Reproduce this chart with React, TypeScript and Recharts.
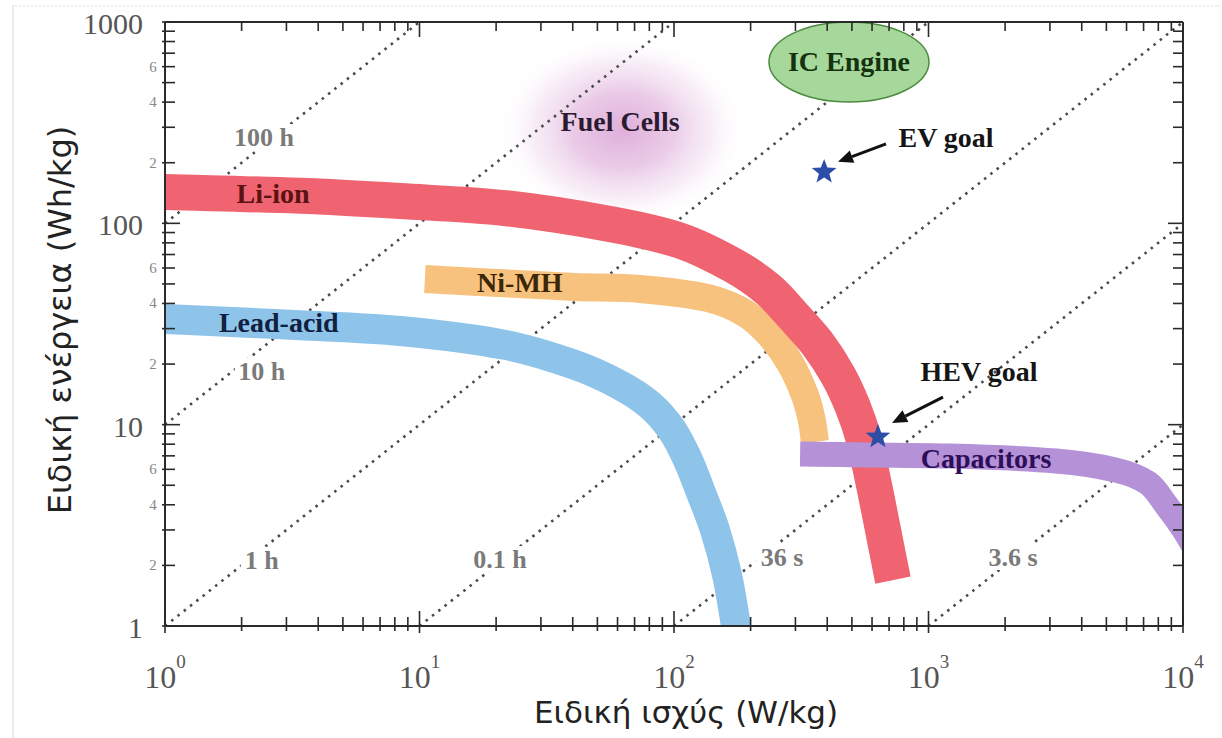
import React from 'react';
import {
  ComposedChart,
  Line,
  Scatter,
  XAxis,
  YAxis,
  ReferenceDot,
  ReferenceLine,
  Label,
} from 'recharts';

const SERIF = '"Liberation Serif", "Times New Roman", serif';
const SANS = '"DejaVu Sans", "Noto Sans", sans-serif';

// Band centre lines: specific power p (W/kg) vs specific energy e (Wh/kg)
const liIon = [
  { p: 1, e: 143 }, { p: 3.4, e: 137 }, { p: 8.4, e: 129 }, { p: 21.7, e: 119 },
  { p: 56.6, e: 99 }, { p: 106, e: 82 }, { p: 170, e: 62 }, { p: 234, e: 47 },
  { p: 299, e: 33.9 }, { p: 365, e: 25.4 }, { p: 441, e: 17.6 }, { p: 505, e: 12.2 },
  { p: 558, e: 8.38 }, { p: 605, e: 5.31 }, { p: 651, e: 3.36 }, { p: 687, e: 2.38 },
  { p: 725, e: 1.69 },
];
const niMH = [
  { p: 10.5, e: 52.9 }, { p: 40.8, e: 48.3 }, { p: 73.5, e: 47.2 }, { p: 135, e: 42.6 },
  { p: 190, e: 35.8 }, { p: 238, e: 27.9 }, { p: 286, e: 20.2 }, { p: 327, e: 14.0 },
  { p: 348, e: 10.5 }, { p: 358, e: 8.2 },
];
const leadAcid = [
  { p: 1, e: 33.5 }, { p: 3.4, e: 31.2 }, { p: 8.4, e: 29.2 }, { p: 21.7, e: 24.9 },
  { p: 40.8, e: 19.8 }, { p: 61.4, e: 15.7 }, { p: 80.5, e: 12.5 }, { p: 98.2, e: 9.4 },
  { p: 113.5, e: 6.67 }, { p: 126.5, e: 4.73 }, { p: 145, e: 2.99 }, { p: 161.6, e: 1.79 },
  { p: 175.3, e: 1.0 }, { p: 181.7, e: 0.76 },
];
const capacitors = [
  { p: 313, e: 7.14 }, { p: 1215, e: 6.98 }, { p: 3170, e: 6.6 }, { p: 5454, e: 5.95 },
  { p: 7288, e: 5.13 }, { p: 8653, e: 3.94 }, { p: 10000, e: 3.06 }, { p: 11145, e: 2.44 },
];

// Constant discharge-time lines (E = t·P), end points only
const line100h = [{ p: 1, e: 100 }, { p: 10, e: 1000 }];
const line10h = [{ p: 1, e: 10 }, { p: 100, e: 1000 }];
const line1h = [{ p: 1, e: 1 }, { p: 1000, e: 1000 }];
const line01h = [{ p: 10, e: 1 }, { p: 10000, e: 1000 }];
const line36s = [{ p: 100, e: 1 }, { p: 10000, e: 100 }];
const line3_6s = [{ p: 1000, e: 1 }, { p: 10000, e: 10 }];
const timeLines = [line100h, line10h, line1h, line01h, line36s, line3_6s];

const timeLabels = [
  { text: '100 h', p: 2.45, e: 268 },
  { text: '10 h', p: 2.4, e: 18.5 },
  { text: '1 h', p: 2.4, e: 2.13 },
  { text: '0.1 h', p: 20.7, e: 2.15 },
  { text: '36 s', p: 266, e: 2.2 },
  { text: '3.6 s', p: 2148, e: 2.2 },
];

// Development targets
const goals = [
  { name: 'EV goal', p: 389, e: 180 },
  { name: 'HEV goal', p: 633, e: 8.7 },
];
const goalLabels = [
  { text: 'EV goal', p: 1172, e: 265 },
  { text: 'HEV goal', p: 1579, e: 18.3 },
];
const evArrow = [{ p: 681, e: 248 }, { p: 441, e: 202 }];
const hevArrow = [{ p: 1140, e: 13.7 }, { p: 719, e: 10.2 }];

// Regions
const icEngine = { p: 487, e: 633 };
const fuelCells = { p: 62.5, e: 291 };

const bandLabels = [
  { text: 'Li-ion', p: 2.66, e: 140 },
  { text: 'Lead-acid', p: 2.8, e: 32 },
  { text: 'Ni-MH', p: 24.8, e: 50.5 },
  { text: 'Capacitors', p: 1683, e: 6.75 },
  { text: 'Fuel Cells', p: 61.4, e: 318 },
  { text: 'IC Engine', p: 487, e: 633 },
];

// Axis ticks
const xMajorTicks = [1, 10, 100, 1000, 10000];
const xTickExponents = ['0', '1', '2', '3', '4'];
const yMajorTicks = [1, 10, 100, 1000];
const yTickLabels = ['1', '10', '100', '1000'];
const minorMultipliers = [2, 3, 4, 5, 6, 7, 8, 9];
const yLabelledMinors = [2, 4, 6];

const withMinors = (majors: number[]) => {
  const out: number[] = [...majors];
  majors.slice(0, -1).forEach((m) => minorMultipliers.forEach((k) => out.push(m * k)));
  return out.sort((a, b) => a - b);
};
const xTicks = withMinors(xMajorTicks);
const yTicks = withMinors(yMajorTicks);

const bandColors: Record<string, string> = {
  'Li-ion': '#ef6470',
  'Ni-MH': '#f7c27e',
  'Lead-acid': '#8fc4ea',
  Capacitors: '#b591d8',
};
const labelColors: Record<string, string> = {
  'Li-ion': '#5a1212',
  'Lead-acid': '#102040',
  'Ni-MH': '#3b2608',
  Capacitors: '#2e0e58',
  'Fuel Cells': '#2c1a30',
  'IC Engine': '#14320e',
};

const AXIS = '#2a2a2a';
const TICK_TEXT = '#555';

// Smooth spline through the points with chord-length scaled tangents (no overshoot on uneven spacing)
const smoothCurve: any = (context: any) => {
  let pts: number[][] = [];
  return {
    areaStart() {},
    areaEnd() {},
    lineStart() {
      pts = [];
    },
    point(x: number, y: number) {
      pts.push([+x, +y]);
    },
    lineEnd() {
      const n = pts.length;
      if (!n) return;
      context.moveTo(pts[0][0], pts[0][1]);
      if (n === 1) return;
      const d: number[] = [];
      for (let i = 0; i < n - 1; i++) {
        d.push(Math.hypot(pts[i + 1][0] - pts[i][0], pts[i + 1][1] - pts[i][1]) || 1e-6);
      }
      const tan = pts.map((p, i) => {
        if (i === 0) return [(pts[1][0] - p[0]) / d[0], (pts[1][1] - p[1]) / d[0]];
        if (i === n - 1) return [(p[0] - pts[i - 1][0]) / d[i - 1], (p[1] - pts[i - 1][1]) / d[i - 1]];
        const s = d[i - 1] + d[i];
        return [(pts[i + 1][0] - pts[i - 1][0]) / s, (pts[i + 1][1] - pts[i - 1][1]) / s];
      });
      for (let i = 0; i < n - 1; i++) {
        const L = d[i] / 3;
        context.bezierCurveTo(
          pts[i][0] + tan[i][0] * L,
          pts[i][1] + tan[i][1] * L,
          pts[i + 1][0] - tan[i + 1][0] * L,
          pts[i + 1][1] - tan[i + 1][1] * L,
          pts[i + 1][0],
          pts[i + 1][1],
        );
      }
    },
  };
};

const mantissa = (v: number) => Math.round(v / Math.pow(10, Math.floor(Math.log10(v) + 1e-9)));

function BottomTick(props: any) {
  const { x, y, payload } = props;
  const i = xMajorTicks.indexOf(payload.value);
  const major = i >= 0;
  return (
    <g>
      <line x1={x} x2={x} y1={y - (major ? 15 : 9)} y2={y + (major ? 7 : 5)} stroke={AXIS} strokeWidth={1.6} />
      {major && (
        <text x={x} y={y + 62} textAnchor="middle" fontFamily={SERIF} fontSize={32} fill={TICK_TEXT}>
          10
          <tspan dy={-20} fontSize={19}>
            {xTickExponents[i]}
          </tspan>
        </text>
      )}
    </g>
  );
}

function TopTick(props: any) {
  const { x, y, payload } = props;
  const major = xMajorTicks.includes(payload.value);
  return <line x1={x} x2={x} y1={y} y2={y + (major ? 15 : 9)} stroke={AXIS} strokeWidth={1.6} />;
}

function LeftTick(props: any) {
  const { x, y, payload } = props;
  const i = yMajorTicks.indexOf(payload.value);
  const major = i >= 0;
  const m = mantissa(payload.value);
  return (
    <g>
      <line x1={x - 3} x2={x + (major ? 15 : 10)} y1={y} y2={y} stroke={AXIS} strokeWidth={1.6} />
      {major && (
        <text x={x - 22} y={y + 12} textAnchor="end" fontFamily={SERIF} fontSize={30} fill={TICK_TEXT}>
          {yTickLabels[i]}
        </text>
      )}
      {!major && yLabelledMinors.includes(m) && (
        <text x={x - 12} y={y + 5} textAnchor="middle" fontFamily={SERIF} fontSize={15} fill="#888">
          {String(m)}
        </text>
      )}
    </g>
  );
}

function RightTick(props: any) {
  const { x, y, payload } = props;
  const major = yMajorTicks.includes(payload.value);
  return <line x1={x - (major ? 15 : 10)} x2={x} y1={y} y2={y} stroke={AXIS} strokeWidth={1.6} />;
}

function XTitle(props: any) {
  const vb = props.viewBox || { x: 165, y: 626, width: 1018 };
  return (
    <text x={vb.x + vb.width / 2 + 12} y={vb.y + 97} textAnchor="middle" fontFamily={SANS} fontSize={31} fill="#222">
      Ειδική ισχύς (W/kg)
    </text>
  );
}

function YTitle(props: any) {
  const vb = props.viewBox || { x: 105, y: 22, height: 604 };
  const cx = vb.x - 34;
  const cy = vb.y + vb.height / 2 - 4;
  return (
    <text x={cx} y={cy} transform={`rotate(-90, ${cx}, ${cy})`} textAnchor="middle" fontFamily={SANS} fontSize={32} fill="#222">
      Ειδική ενέργεια (Wh/kg)
    </text>
  );
}

function StarShape(props: any) {
  const { cx, cy } = props;
  if (cx == null || cy == null) return <g />;
  const pts: string[] = [];
  for (let k = 0; k < 10; k++) {
    const r = k % 2 === 0 ? 13 : 5.5;
    const a = -Math.PI / 2 + (k * Math.PI) / 5;
    pts.push(`${cx + r * Math.cos(a)},${cy + r * Math.sin(a)}`);
  }
  return <polygon points={pts.join(' ')} fill="#2d4ea8" />;
}

function ArrowShape(props: any) {
  const { x1, y1, x2, y2 } = props;
  if ([x1, y1, x2, y2].some((v) => v == null || Number.isNaN(v))) return <g />;
  const ang = Math.atan2(y2 - y1, x2 - x1);
  const len = 15;
  const half = 6.5;
  const bx = x2 - len * Math.cos(ang);
  const by = y2 - len * Math.sin(ang);
  const px = -Math.sin(ang) * half;
  const py = Math.cos(ang) * half;
  return (
    <g>
      <line x1={x1} y1={y1} x2={bx} y2={by} stroke="#111" strokeWidth={3} />
      <polygon points={`${x2},${y2} ${bx + px},${by + py} ${bx - px},${by - py}`} fill="#111" />
    </g>
  );
}

function TimeTag(text: string) {
  return (props: any) => {
    const { cx, cy } = props;
    const w = text.length * 12 + 6;
    return (
      <g>
        <rect x={cx - w / 2} y={cy - 13} width={w} height={26} fill="#fff" />
        <text x={cx} y={cy + 9} textAnchor="middle" fontFamily={SERIF} fontSize={26} fontWeight="bold" fill="#7a7a7a">
          {text}
        </text>
      </g>
    );
  };
}

function TextTag(text: string, color: string) {
  return (props: any) => {
    const { cx, cy } = props;
    return (
      <text x={cx} y={cy + 9} textAnchor="middle" fontFamily={SERIF} fontSize={28} fontWeight="bold" fill={color}>
        {text}
      </text>
    );
  };
}

function FuelCellGlow(props: any) {
  const { cx, cy } = props;
  return (
    <g>
      <defs>
        <radialGradient id="fuelGlow" cx="50%" cy="50%" r="50%">
          <stop offset="0%" stopColor="#dba6d7" stopOpacity={0.9} />
          <stop offset="40%" stopColor="#e4bde1" stopOpacity={0.8} />
          <stop offset="72%" stopColor="#f1dcef" stopOpacity={0.5} />
          <stop offset="100%" stopColor="#ffffff" stopOpacity={0} />
        </radialGradient>
      </defs>
      <ellipse cx={cx} cy={cy} rx={125} ry={95} fill="url(#fuelGlow)" />
    </g>
  );
}

function EngineEllipse(props: any) {
  const { cx, cy } = props;
  return <ellipse cx={cx} cy={cy} rx={80} ry={40} fill="#a6d89b" stroke="#4d8c40" strokeWidth={1.5} />;
}

const bandSeries = [
  { name: 'Lead-acid', data: leadAcid, width: 30 },
  { name: 'Ni-MH', data: niMH, width: 28 },
  { name: 'Li-ion', data: liIon, width: 36 },
  { name: 'Capacitors', data: capacitors, width: 25 },
];

export default function App() {
  return (
    <div style={{ position: 'absolute', left: 0, top: 0, width: 1222, height: 738, background: '#fff' }}>
      <div
        style={{
          position: 'absolute',
          left: 12,
          top: 5,
          width: 1206,
          height: 740,
          borderLeft: '2px solid #ececec',
          borderTop: '2px dotted #ececec',
        }}
      />
      <ComposedChart width={1222} height={738} margin={{ top: 12, right: 29, bottom: 52, left: 105 }}>
        <XAxis
          dataKey="p"
          type="number"
          scale="log"
          domain={[1, 10000]}
          allowDataOverflow
          ticks={xTicks}
          interval={0}
          tick={BottomTick}
          tickSize={0}
          tickMargin={0}
          tickLine={false}
          axisLine={{ stroke: AXIS, strokeWidth: 2 }}
          height={60}
        >
          <Label content={XTitle} />
        </XAxis>
        <XAxis
          xAxisId="top"
          orientation="top"
          dataKey="p"
          type="number"
          scale="log"
          domain={[1, 10000]}
          allowDataOverflow
          ticks={xTicks}
          interval={0}
          tick={TopTick}
          tickSize={0}
          tickMargin={0}
          tickLine={false}
          axisLine={{ stroke: AXIS, strokeWidth: 2 }}
          height={10}
        />
        <YAxis
          type="number"
          scale="log"
          domain={[1, 1000]}
          allowDataOverflow
          ticks={yTicks}
          interval={0}
          tick={LeftTick}
          tickSize={0}
          tickMargin={0}
          tickLine={false}
          axisLine={{ stroke: AXIS, strokeWidth: 2 }}
          width={60}
        >
          <Label content={YTitle} />
        </YAxis>
        <YAxis
          yAxisId="right"
          orientation="right"
          type="number"
          scale="log"
          domain={[1, 1000]}
          allowDataOverflow
          ticks={yTicks}
          interval={0}
          tick={RightTick}
          tickSize={0}
          tickMargin={0}
          tickLine={false}
          axisLine={{ stroke: AXIS, strokeWidth: 2 }}
          width={10}
        />

        <ReferenceDot x={fuelCells.p} y={fuelCells.e} r={0} shape={FuelCellGlow} zIndex={50} />

        {timeLines.map((d, i) => (
          <Line
            key={`t${i}`}
            data={d}
            dataKey="e"
            type="linear"
            stroke="#4a4a4a"
            strokeWidth={2.6}
            strokeDasharray="2.5 5.5"
            dot={false}
            activeDot={false}
            legendType="none"
            isAnimationActive={false}
            zIndex={100}
          />
        ))}

        {timeLabels.map((t) => (
          <ReferenceDot key={t.text} x={t.p} y={t.e} r={0} shape={TimeTag(t.text)} zIndex={150} />
        ))}

        {bandSeries.map((b) => (
          <Line
            key={b.name}
            name={b.name}
            data={b.data}
            dataKey="e"
            type={smoothCurve}
            stroke={bandColors[b.name]}
            strokeWidth={b.width}
            dot={false}
            activeDot={false}
            legendType="none"
            isAnimationActive={false}
            zIndex={200}
          />
        ))}

        <ReferenceDot x={icEngine.p} y={icEngine.e} r={0} shape={EngineEllipse} zIndex={250} />

        {bandLabels.map((t) => (
          <ReferenceDot key={t.text} x={t.p} y={t.e} r={0} shape={TextTag(t.text, labelColors[t.text])} zIndex={300} />
        ))}

        <ReferenceLine
          segment={[{ x: evArrow[0].p, y: evArrow[0].e }, { x: evArrow[1].p, y: evArrow[1].e }]}
          shape={ArrowShape}
          zIndex={320}
        />
        <ReferenceLine
          segment={[{ x: hevArrow[0].p, y: hevArrow[0].e }, { x: hevArrow[1].p, y: hevArrow[1].e }]}
          shape={ArrowShape}
          zIndex={320}
        />
        {goalLabels.map((t) => (
          <ReferenceDot key={t.text} x={t.p} y={t.e} r={0} shape={TextTag(t.text, '#151515')} zIndex={320} />
        ))}

        <Scatter data={goals} dataKey="e" shape={StarShape} isAnimationActive={false} legendType="none" zIndex={350} />
      </ComposedChart>
    </div>
  );
}
